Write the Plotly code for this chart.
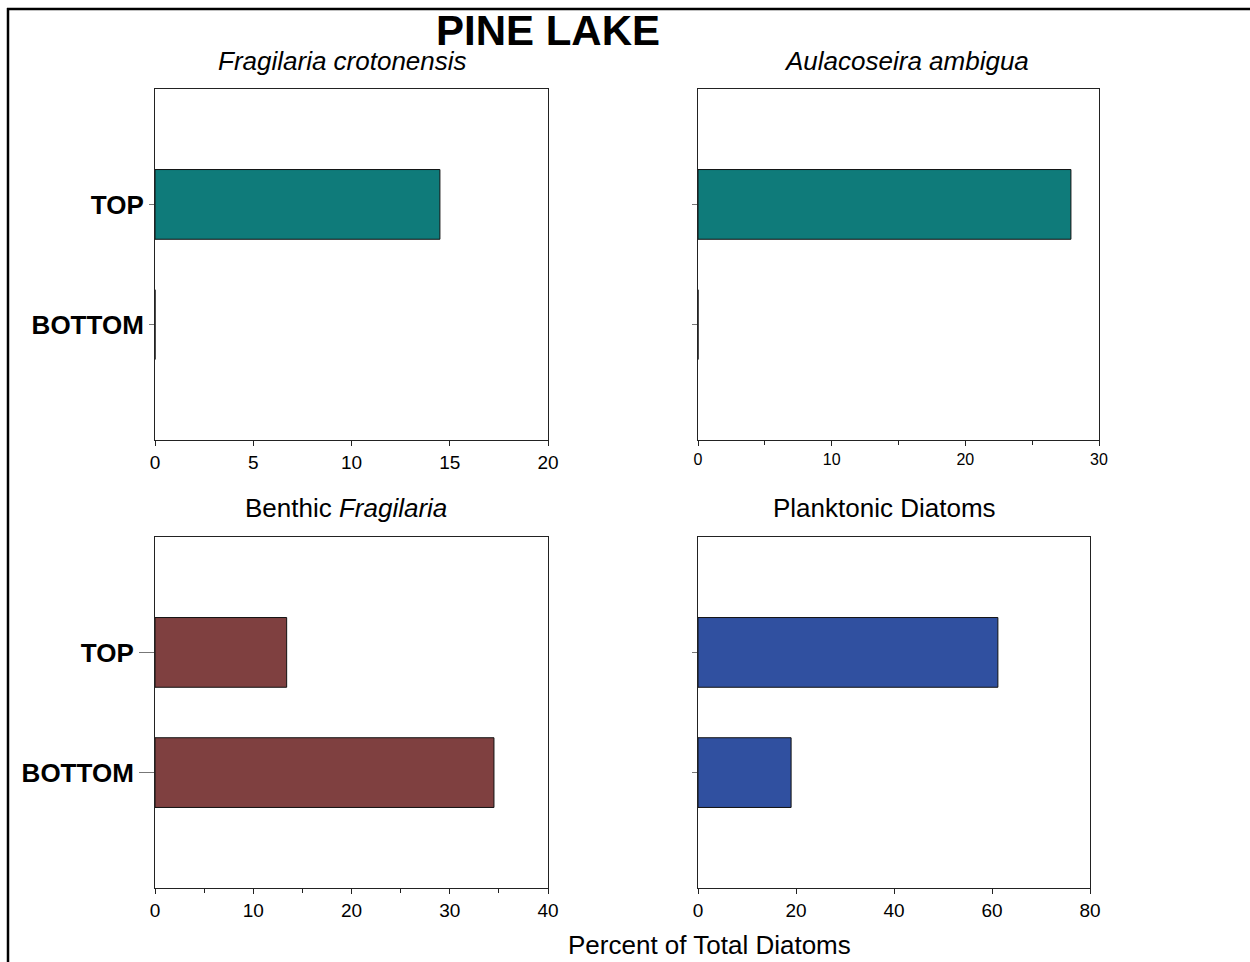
import plotly.graph_objects as go

W, H = 1250, 962

categories = ["BOTTOM", "TOP"]
frag_croto = [0, 14.5]
aulaco = [0, 27.9]
benthic_frag = [34.5, 13.4]
planktonic = [19.0, 61.2]

main_title = "PINE LAKE"
panel_titles = ["<i>Fragilaria crotonensis</i>", "<i>Aulacoseira ambigua</i>",
                "Benthic <i>Fragilaria</i>", "Planktonic Diatoms"]
x_title = "Percent of Total Diatoms"

teal = "#0F7B7A"
brown = "#7F4040"
blue = "#3050A0"

def px_x(p):
    return p / W

def px_y(p):
    return 1 - p / H

FONT = "Liberation Sans, Arial, sans-serif"

fig = go.Figure()

panels = [
    (frag_croto, teal, "x", "y", [0, 20], 5, None, (155, 548), (89, 440), 5, 19, True),
    (aulaco, teal, "x2", "y2", [0, 30], 10, 5, (698, 1099), (89, 440), 5, 16, False),
    (benthic_frag, brown, "x3", "y3", [0, 40], 10, 5, (155, 548), (537, 888), 15, 19, True),
    (planktonic, blue, "x4", "y4", [0, 80], 20, None, (698, 1090), (537, 888), 5, 19, False),
]

for i, (vals, col, xa, ya, xr, dt, mn, xd, yd, tl, tfs, ylab) in enumerate(panels):
    fig.add_trace(go.Bar(
        y=categories, x=vals, orientation="h", xaxis=xa, yaxis=ya,
        marker=dict(color=col, line=dict(color="#111111", width=1)),
        width=0.58, showlegend=False, hoverinfo="x+y",
    ))
    sfx = "" if i == 0 else str(i + 1)
    xaxis = dict(
        domain=[px_x(xd[0]), px_x(xd[1])], anchor=ya, range=xr, dtick=dt, tick0=0,
        showgrid=False, zeroline=False, showline=True, linecolor="#222222", linewidth=1,
        mirror=True, ticks="outside", ticklen=5, tickcolor="#222222", automargin=False,
        tickfont=dict(family=FONT, size=tfs, color="black"), fixedrange=True,
    )
    if mn:
        xaxis["minor"] = dict(dtick=mn, tick0=0, ticks="outside", ticklen=4, tickcolor="#222222", showgrid=False)
    yaxis = dict(
        domain=[px_y(yd[1]), px_y(yd[0])], anchor=xa, range=[-0.96, 1.96],
        showgrid=False, zeroline=False, showline=True, linecolor="#222222", linewidth=1,
        mirror=True, ticks="outside", ticklen=tl, tickcolor="#777777", automargin=False,
        showticklabels=ylab, tickfont=dict(family=FONT, size=26, color="black"),
        tickmode="array", tickvals=categories, ticktext=["<b>" + c + "</b>" for c in categories],
        categoryorder="array", categoryarray=categories, fixedrange=True,
    )
    fig.layout["xaxis" + sfx] = xaxis
    fig.layout["yaxis" + sfx] = yaxis

annotations = [
    dict(text="<b>" + main_title + "</b>", x=px_x(548), y=px_y(30), size=42, ya="middle"),
    dict(text=panel_titles[0], x=px_x(342), y=px_y(61), size=26, ya="middle"),
    dict(text=panel_titles[1], x=px_x(906), y=px_y(61), size=26, ya="middle"),
    dict(text=panel_titles[2], x=px_x(346), y=px_y(508), size=26, ya="middle"),
    dict(text=panel_titles[3], x=px_x(884), y=px_y(508), size=26, ya="middle"),
    dict(text=x_title, x=px_x(709), y=0, size=26, ya="bottom"),
]
fig.update_layout(annotations=[
    dict(text=a["text"], x=a["x"], y=a["y"], xref="paper", yref="paper",
         xanchor="center", yanchor=a["ya"], showarrow=False,
         font=dict(family=FONT, size=a["size"], color="black"))
    for a in annotations
])

fig.update_layout(
    shapes=[
        dict(type="line", xref="paper", yref="paper", x0=px_x(8), x1=px_x(8), y0=px_y(8), y1=0,
             line=dict(color="black", width=2.5)),
        dict(type="line", xref="paper", yref="paper", x0=px_x(7), x1=1, y0=px_y(9), y1=px_y(9),
             line=dict(color="black", width=2.5)),
    ],
    width=W, height=H, margin=dict(l=0, r=0, t=0, b=0, autoexpand=False),
    paper_bgcolor="white", plot_bgcolor="white", bargap=0.4,
)

fig.write_html(
    "out.html",
    config={"responsive": False, "displayModeBar": False},
    post_script="document.body.style.margin='0';document.body.style.overflow='hidden';",
)
